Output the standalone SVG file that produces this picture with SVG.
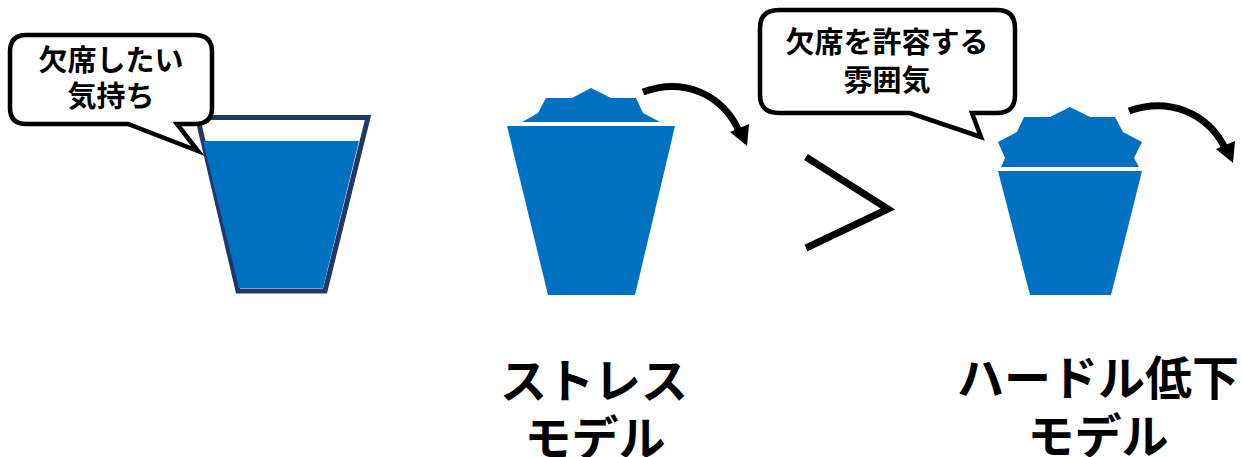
<svg xmlns="http://www.w3.org/2000/svg" width="1242" height="457" viewBox="0 0 1242 457">
<style>
.cup{fill:#0070C0}
.bubble{fill:#fff;stroke:#000;stroke-width:4.5;stroke-linejoin:miter}
.t{font-family:"Noto Sans CJK JP","Noto Sans",sans-serif;text-anchor:middle;fill:#000}
.s{font-size:29px;font-weight:700}
.b{font-size:47px;font-weight:700}
.arc{fill:none;stroke:#000;stroke-width:7}
</style>
<rect width="1242" height="457" fill="#fff"/>
<g id="cup-1">
<polygon points="197.500,117.500 368,117.500 325,291 238,291" fill="#fff" stroke="#1F3864" stroke-width="5"/>
<polygon class="cup" points="203,141 359,141 323,288 239,288"/>
</g>
<g id="bubble-1">
<path class="bubble" d="M26,35H195Q212,35 212,52V108Q212,124 195,124H177L198,151L128,124H26Q10,124 10,108V52Q10,35 26,35Z"/>
<text class="t s" x="111" y="71">欠席したい</text>
<text class="t s" x="111" y="107">気持ち</text>
</g>
<g id="cup-2">
<polygon class="cup" points="522,122 538,113 546,98 572,98 591,88 611,98 636,98 643,113 660,122"/>
<polygon class="cup" points="507,126 675,126 635,295 548,295"/>
</g>
<g id="bubble-2">
<path class="bubble" d="M779,10H997Q1015,10 1015,28V95Q1015,113 997,113H972L981,137L910,113H779Q760,113 760,95V28Q760,10 779,10Z"/>
<text class="t s" x="887" y="53">欠席を許容する</text>
<text class="t s" x="887" y="91">雰囲気</text>
</g>
<g id="cup-3">
<polygon class="cup" points="998,142 1017,132 1024,117 1050,117 1070,107 1090,117 1115,117 1123,132 1142,142 1134,158 1139,167 1001,167 1005,158"/>
<polygon class="cup" points="998,171 1142,171 1111,295 1030,295"/>
</g>
<g id="connectors">
<path class="arc" d="M643,92C682,78 722,92 740,133"/>
<polygon points="730,132 749,124 747,146"/>
<path class="arc" d="M1129,111C1168,97 1208,112 1226,150"/>
<polygon points="1216,149 1235,141 1233,163"/>
<polyline points="806,157 888,209 806,248" fill="none" stroke="#000" stroke-width="7"/>
</g>
<g id="label-stress">
<text class="t b" x="594" y="398">ストレス</text>
<text class="t b" x="595" y="455">モデル</text>
</g>
<g id="label-hurdle">
<text class="t b" x="1098" y="395">ハードル低下</text>
<text class="t b" x="1098" y="453">モデル</text>
</g>
</svg>
